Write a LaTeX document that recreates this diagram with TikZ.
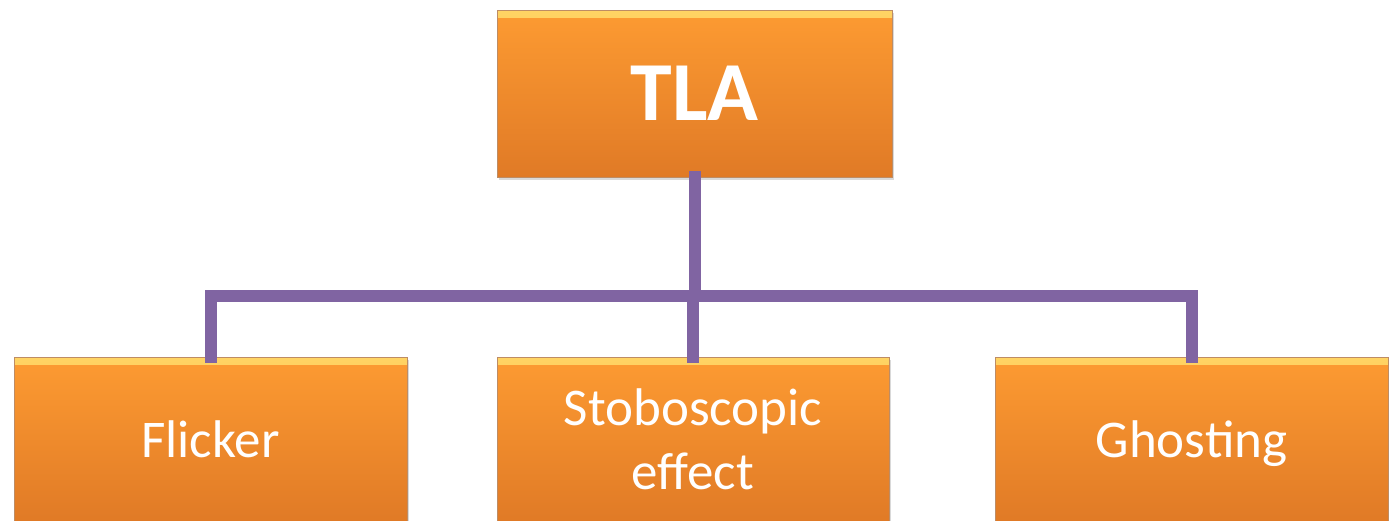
\documentclass[tikz,border=0pt]{standalone}
\usepackage{fontspec}
\setmainfont{Carlito}
\usetikzlibrary{shadows}
\definecolor{boxtop}{RGB}{253,155,50}
\definecolor{boxbot}{RGB}{224,122,38}
\definecolor{boxhi}{RGB}{255,212,100}
\definecolor{boxedge}{RGB}{190,140,100}
\definecolor{conncol}{RGB}{128,100,162}
\tikzset{
  orangebox/.style={rectangle, draw=boxedge, line width=0.8pt,
    top color=boxtop, bottom color=boxbot, text=white, inner sep=0pt,
    align=center,
    drop shadow={opacity=0.3, shadow xshift=2pt, shadow yshift=-3pt},
    path picture={\shade[top color=boxhi, bottom color=boxtop]
      (path picture bounding box.north west) rectangle
      ([yshift=-7pt]path picture bounding box.north east);}},
  conn/.style={draw=conncol, line width=12pt, line cap=rect},
  leaftext/.style={font=\fontsize{53}{64}\selectfont}
}
\begin{document}
\begin{tikzpicture}[x=1pt,y=-1pt]
\useasboundingbox (0,0) rectangle (1389,520);
\begin{scope}
\clip (0,0) rectangle (1389,520);
\node[orangebox, minimum width=395pt, minimum height=167pt,
  font=\fontsize{84}{100}\selectfont\bfseries] (tla) at (694.5,93.5) {TLA};
\node[orangebox, leaftext, minimum width=393pt, minimum height=165pt] (flick) at (210.5,439.5) {Flicker};
\node[orangebox, leaftext, minimum width=392pt, minimum height=165pt] (strob) at (693,439.5) {Stoboscopic\\effect};
\node[orangebox, leaftext, minimum width=393pt, minimum height=165pt] (ghost) at (1191.5,439.5) {\raisebox{0pt}[\height][0pt]{Ghosting}};
\coordinate (bar) at (694,296);
\draw[conn] (tla.south) -- (tla.south |- bar);
\draw[conn] (flick.north |- bar) -- (ghost.north |- bar);
\draw[conn] (flick.north) -- (flick.north |- bar);
\draw[conn] (strob.north) -- (strob.north |- bar);
\draw[conn] (ghost.north) -- (ghost.north |- bar);
\end{scope}
\end{tikzpicture}
\end{document}
